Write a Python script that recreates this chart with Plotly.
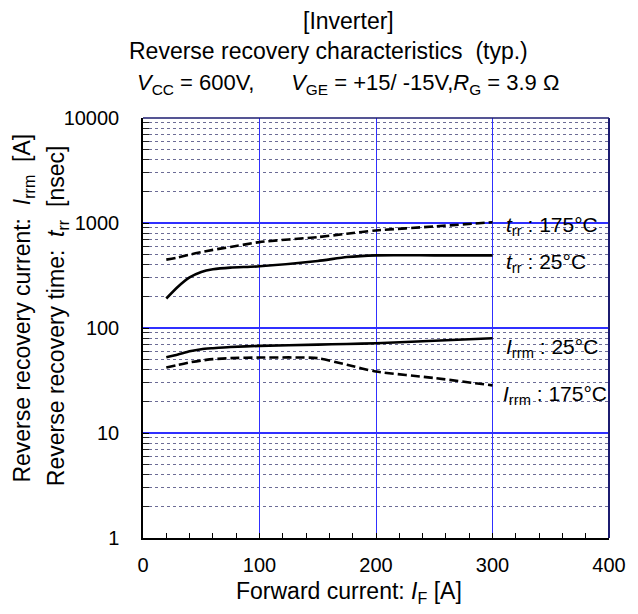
import plotly.graph_objects as go

# Forward current sample points [A]
current_a = [20, 30, 40, 50, 60, 75, 100, 150, 175, 200, 250, 300]

# Reverse recovery time t_rr [nsec]
trr_175 = [448, 470, 500, 528, 555, 590, 658, 734, 790, 849, 927, 1018]
trr_25 = [191, 247, 303, 342, 362, 376, 387, 435, 474, 492, 492, 492]

# Reverse recovery current I_rrm [A]
irrm_25 = [52.7, 56, 60, 62.8, 64.2, 66, 67.5, 69.5, 70.5, 71.6, 75.5, 79.8]
irrm_175 = [42, 44.5, 47, 49, 50.5, 51.6, 52.3, 51.6, 44.6, 38.5, 33.4, 28.4]

x_ticks = [0, 100, 200, 300, 400]
y_ticks = [1, 10, 100, 1000, 10000]
# 2..9 within each decade for the dotted minor grid
y_minor = [m * 10 ** d for d in range(4) for m in range(2, 10)]

FONT = "Liberation Sans, Arial, sans-serif"
GRID_MAJOR = "#3030ff"
GRID_MINOR = "#6c6c96"
FRAME = "#1c1c70"

fig = go.Figure()

series = [
    (trr_175, "dash"),
    (trr_25, "solid"),
    (irrm_25, "solid"),
    (irrm_175, "dash"),
]
for ys, dash in series:
    fig.add_trace(go.Scatter(
        x=current_a, y=ys, mode="lines",
        line=dict(color="black", width=2.6, shape="spline", smoothing=0.6,
                  dash="9px,4px" if dash == "dash" else "solid"),
        showlegend=False, hoverinfo="skip",
    ))

fig.update_xaxes(
    range=[0, 400], tickvals=x_ticks, ticktext=[str(v) for v in x_ticks],
    showgrid=True, gridcolor=GRID_MAJOR, gridwidth=1.2,
    showline=True, linecolor="black", linewidth=1.5, mirror=False,
    ticks="inside", ticklen=5, tickcolor="black",
    minor=dict(dtick=20, ticks="inside", ticklen=5, tickcolor="black", showgrid=False),
    tickfont=dict(family=FONT, size=20, color="black"),
    ticklabelstandoff=8,
    zeroline=False,
)
fig.update_yaxes(
    type="log", range=[0, 4], tickvals=y_ticks, ticktext=[str(v) for v in y_ticks],
    showgrid=True, gridcolor=GRID_MAJOR, gridwidth=1.6,
    showline=True, linecolor="black", linewidth=1.5, mirror=False,
    ticks="inside", ticklen=6, tickcolor="black",
    minor=dict(tickmode="array", tickvals=y_minor, ticks="inside", ticklen=6,
               tickcolor="#222222", showgrid=True, gridcolor=GRID_MINOR,
               griddash="dot", gridwidth=1),
    tickfont=dict(family=FONT, size=20, color="black"),
    ticklabelstandoff=18,
    zeroline=False,
)

# Top and right frame edges
fig.add_shape(type="line", xref="paper", yref="paper", x0=0, x1=1, y0=1, y1=1,
              line=dict(color=FRAME, width=1.5))
fig.add_shape(type="line", xref="paper", yref="paper", x0=1, x1=1, y0=0, y1=1,
              line=dict(color=FRAME, width=2))

PLOT_L, PLOT_T, PLOT_W, PLOT_H = 143, 117.5, 472, 421


def px(xp):
    return (xp - PLOT_L) / PLOT_W


def py(yp):
    return (PLOT_T + PLOT_H - yp) / PLOT_H


def note(text, x, y, size, xanchor="center", angle=0):
    fig.add_annotation(text=text, xref="paper", yref="paper", x=px(x), y=py(y),
                       xanchor=xanchor, yanchor="middle", showarrow=False,
                       textangle=angle,
                       font=dict(family=FONT, size=size, color="black"))


# Title block
note("[Inverter]", 351, 20, 23)
note("Reverse recovery characteristics  (typ.)", 331, 50, 23)
note("<i>V</i><sub>CC</sub> = 600V,      <i>V</i><sub>GE</sub> = +15/ -15V,"
     "<i>R</i><sub>G</sub> = 3.9 Ω", 351, 83, 22)

# Axis titles
note("Forward current: <i>I</i><sub>F</sub> [A]", 352, 593, 23)
note("Reverse recovery current:  <i>I</i><sub>rrm</sub>  [A]", 22, 308, 23, angle=-90)
note("Reverse recovery time:  <i>t</i><sub>rr</sub>  [nsec]", 56, 316, 23, angle=-90)

# Curve labels
note("<i>t</i><sub>rr</sub> : 175°C", 509, 226, 21, xanchor="left")
note("<i>t</i><sub>rr</sub> : 25°C", 509, 263, 21, xanchor="left")
note("<i>I</i><sub>rrm</sub> : 25°C", 509, 348, 21, xanchor="left")
note("<i>I</i><sub>rrm</sub> : 175°C", 506, 395, 21, xanchor="left")

fig.update_layout(
    width=638, height=614,
    margin=dict(l=PLOT_L, r=638 - PLOT_L - PLOT_W, t=PLOT_T, b=614 - PLOT_T - PLOT_H),
    paper_bgcolor="white", plot_bgcolor="white",
    font=dict(family=FONT, color="black"),
)

fig.write_html("out.html")
